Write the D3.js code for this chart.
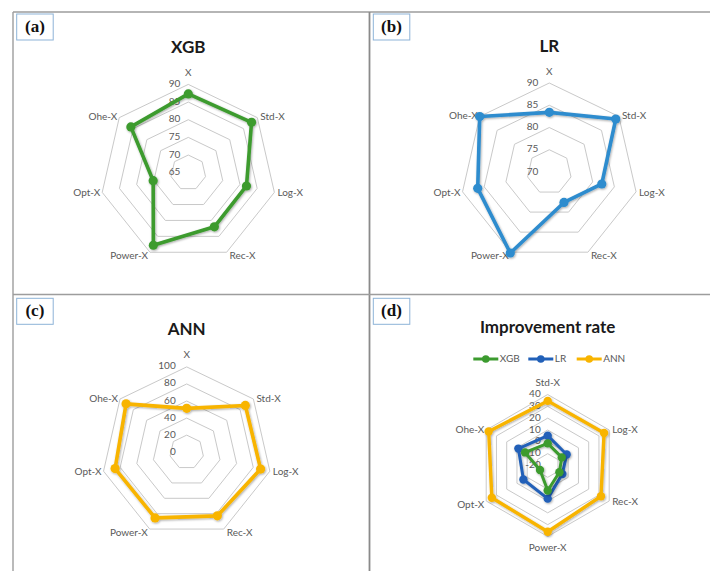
<!DOCTYPE html>
<html>
<head>
<meta charset="utf-8">
<script src="https://cdn.jsdelivr.net/npm/d3@7"></script>
<style>
  html, body { margin: 0; padding: 0; background: #fff; }
  svg { display: block; }
  text { font-family: Lato, "Open Sans", sans-serif; }
</style>
</head>
<body>
<script>
// Category axes
const featureAxes = ["X", "Std-X", "Log-X", "Rec-X", "Power-X", "Opt-X", "Ohe-X"];
const rateAxes = ["Std-X", "Log-X", "Rec-X", "Power-X", "Opt-X", "Ohe-X"];

// Scores per feature transformation
const xgbScores = [87.3, 87.9, 81.9, 82.0, 87.8, 75.2, 85.8];
const lrScores  = [83.4, 89.1, 82.1, 77.6, 90.2, 86.5, 90.0];
const annScores = [51.4, 87.9, 88.9, 82.8, 85.5, 86.1, 90.9];

// Improvement rate (%) relative to X
const xgbRate = [-1.3, -6.3, -8.6, 1.1, -12.5, 2.1];
const lrRate  = [5.2, -1.5, -5.7, 8.0, 3.7, 8.6];
const annRate = [34.6, 35.0, 32.0, 36.0, 34.5, 37.6];

// Radial tick values
const xgbTicks  = [65, 70, 75, 80, 85, 90];
const lrTicks   = [70, 75, 80, 85, 90];
const annTicks  = [0, 20, 40, 60, 80, 100];
const rateTicks = [-20, -10, 0, 10, 20, 30, 40];

// Titles and legend
const panelTags = ["(a)", "(b)", "(c)", "(d)"];
const titles = ["XGB", "LR", "ANN", "Improvement rate"];
const legendNames = ["XGB", "LR", "ANN"];

const W = 710, H = 571;
const svg = d3.select("body").append("svg").attr("width", W).attr("height", H);
svg.append("rect").attr("width", W).attr("height", H).attr("fill", "#fff");

const defs = svg.append("defs");
defs.append("filter").attr("id", "shade")
  .attr("x", "-10%").attr("y", "-10%").attr("width", "130%").attr("height", "130%")
  .append("feDropShadow")
  .attr("dx", 0.8).attr("dy", 1).attr("stdDeviation", 0.9)
  .attr("flood-color", "#000").attr("flood-opacity", 0.35);

// Panel frame
const frame = svg.append("g").attr("stroke", "#9d9d9d").attr("stroke-width", 1.4).attr("fill", "none");
frame.append("line").attr("x1", 13).attr("x2", W).attr("y1", 12).attr("y2", 12);
frame.append("line").attr("x1", 13).attr("x2", 13).attr("y1", 12).attr("y2", H);
frame.append("line").attr("x1", 369.5).attr("x2", 369.5).attr("y1", 12).attr("y2", H).attr("stroke", "#8a8a8a").attr("stroke-width", 1.8);
frame.append("line").attr("x1", 13).attr("x2", W).attr("y1", 294.5).attr("y2", 294.5);

// Panel tags
const tagPos = [[16.7, 14], [373.3, 14], [16.7, 298.3], [373.3, 298.3]];
tagPos.forEach((p, i) => {
  const g = svg.append("g").attr("transform", `translate(${p[0]},${p[1]})`);
  g.append("rect").attr("width", 36.5).attr("height", 26)
    .attr("fill", "#fff").attr("stroke", "#8db3d8").attr("stroke-width", 1);
  g.append("text").attr("x", 18.2).attr("y", 18)
    .attr("text-anchor", "middle")
    .style("font-family", "'Liberation Serif', 'DejaVu Serif', serif")
    .style("font-weight", "bold").style("font-size", "17px")
    .attr("fill", "#111").text(panelTags[i]);
});

function drawRadar(cfg) {
  const g = svg.append("g").attr("transform", `translate(${cfg.cx},${cfg.cy})`);
  const n = cfg.axes.length;
  const ang = i => i * 2 * Math.PI / n;
  const r = d3.scaleLinear().domain([cfg.ticks[0], cfg.ticks[cfg.ticks.length - 1]]).range([0, cfg.R]);

  // Title
  svg.append("text").attr("x", cfg.cx).attr("y", cfg.titleY)
    .attr("text-anchor", "middle")
    .style("font-weight", "bold").style("font-size", "17px")
    .attr("fill", "#1a1a1a").text(cfg.title);

  // Grid rings
  const ring = d3.lineRadial().angle((d, i) => ang(i)).radius(d => r(d)).curve(d3.curveLinearClosed);
  cfg.ticks.slice(1).forEach(t => {
    g.append("path").attr("d", ring(d3.range(n).map(() => t)))
      .attr("fill", "none").attr("stroke", "#c9c9c9").attr("stroke-width", 1);
  });

  // Tick labels
  cfg.ticks.forEach(t => {
    g.append("text").attr("x", -cfg.tickGap).attr("y", -r(t))
      .attr("text-anchor", "end").attr("dominant-baseline", "middle")
      .style("font-size", "10px").attr("fill", "#595959").text(t);
  });

  // Category labels
  const R = cfg.R;
  cfg.axes.forEach((name, i) => {
    const a = ang(i);
    const s = Math.sin(a), c = Math.cos(a);
    let x = R * s, y = -R * c;
    let anchor = "middle";
    if (s > 0.1) { anchor = "start"; x += 3; }
    else if (s < -0.1) { anchor = "end"; x -= 2; }
    if (c > 0.95) y -= 11;
    else if (c < -0.95) y += 12;
    else if (c < -0.5) y += 4;
    else if (c < 0) y += 1.5;
    g.append("text").attr("x", x).attr("y", y)
      .attr("text-anchor", anchor).attr("dominant-baseline", "middle")
      .style("font-size", "10px").attr("fill", "#595959").text(name);
  });

  // Series
  cfg.series.forEach(s => {
    const sg = g.append("g").attr("filter", "url(#shade)");
    sg.append("path").attr("d", ring(s.values))
      .attr("fill", "none").attr("stroke", s.color)
      .attr("stroke-width", s.width).attr("stroke-linejoin", "round");
    sg.selectAll("circle").data(s.values).join("circle")
      .attr("cx", (d, i) => r(d) * Math.sin(ang(i)))
      .attr("cy", (d, i) => -r(d) * Math.cos(ang(i)))
      .attr("r", s.marker).attr("fill", s.color);
  });
}

const GREEN = "#3c9b2f", BLUE_B = "#2d8cce", BLUE_D = "#2160b8", GOLD = "#f8b400";

drawRadar({ cx: 188.3, cy: 172.7, R: 88.3, axes: featureAxes, ticks: xgbTicks, tickGap: 8,
  title: titles[0], titleY: 53,
  series: [{ values: xgbScores, color: GREEN, width: 3.6, marker: 4.6 }] });

drawRadar({ cx: 549.3, cy: 172, R: 89, axes: featureAxes, ticks: lrTicks, tickGap: 11,
  title: titles[1], titleY: 52,
  series: [{ values: lrScores, color: BLUE_B, width: 3.6, marker: 4.6 }] });

drawRadar({ cx: 186.7, cy: 452.2, R: 85.3, axes: featureAxes, ticks: annTicks, tickGap: 11,
  title: titles[2], titleY: 335,
  series: [{ values: annScores, color: GOLD, width: 3.6, marker: 4.6 }] });

drawRadar({ cx: 547.7, cy: 465.5, R: 71, axes: rateAxes, ticks: rateTicks, tickGap: 7,
  title: titles[3], titleY: 333,
  series: [
    { values: annRate, color: GOLD, width: 3.4, marker: 4.2 },
    { values: lrRate, color: BLUE_D, width: 3, marker: 4.2 },
    { values: xgbRate, color: GREEN, width: 3, marker: 4.2 }
  ] });

// Legend for the improvement-rate panel
const legendColors = [GREEN, BLUE_D, GOLD];
const legendX = [473.3, 528.3, 576.7];
const lg = svg.append("g");
legendNames.forEach((name, i) => {
  const x0 = legendX[i];
  lg.append("line").attr("x1", x0).attr("x2", x0 + 25).attr("y1", 359).attr("y2", 359)
    .attr("stroke", legendColors[i]).attr("stroke-width", 3);
  lg.append("circle").attr("cx", x0 + 12.5).attr("cy", 359).attr("r", 3.8).attr("fill", legendColors[i]);
  lg.append("text").attr("x", x0 + 26.5).attr("y", 359).attr("dominant-baseline", "middle")
    .style("font-size", "10px").attr("fill", "#595959").text(name);
});
</script>
</body>
</html>
